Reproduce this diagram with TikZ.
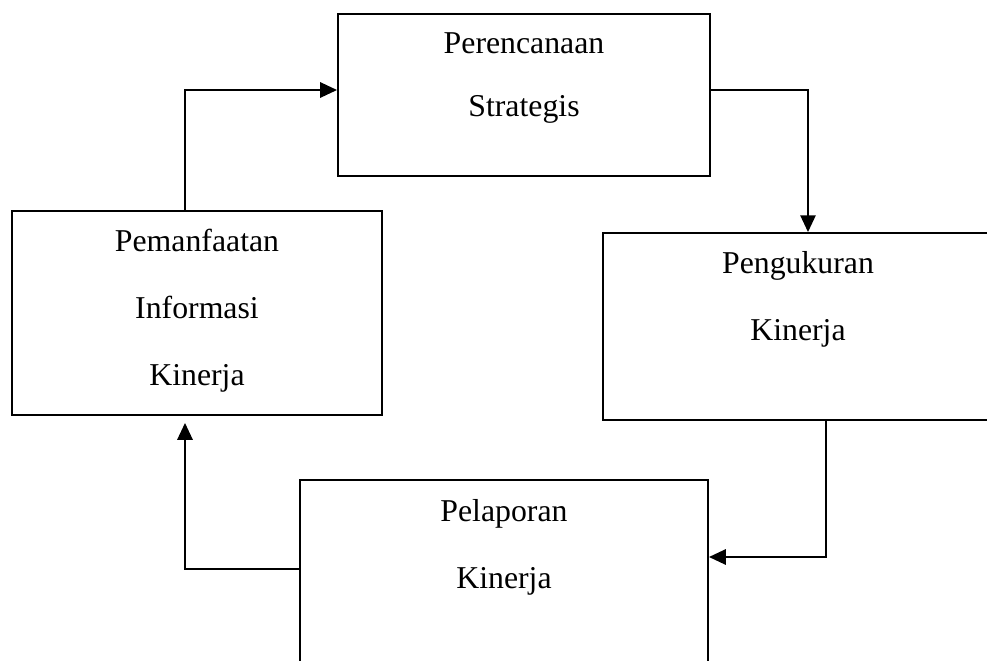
\documentclass[tikz,border=0pt]{standalone}
\usepackage{fontspec}
\setmainfont{Liberation Serif}
\usepackage{tikz}
\usetikzlibrary{arrows.meta, positioning}

\begin{document}
\begin{tikzpicture}[x=0.025cm, y=-0.025cm,
    box/.style = {shape=rectangle, draw, line width=1.3pt, inner sep=0pt},
    txt/.style = {align=center, inner sep=0pt, font=\fontsize{22.6}{47.7}\selectfont},
    flow/.style = {draw, line width=1.5pt, -{Triangle[length=0.42cm, width=0.38cm]}}]
    \useasboundingbox (0,0) rectangle (987,660);
    \clip (0,0) rectangle (987,660);
    % boxes
    \node[box, minimum width=9.3cm, minimum height=4.05cm] (plan) at (524,95) {};
    \node[box, minimum width=9.25cm, minimum height=5.1cm] (use) at (197,313) {};
    \node[box, minimum width=9.75cm, minimum height=4.675cm] (meas) at (798,326.5) {};
    \node[box, minimum width=10.2cm, minimum height=4.75cm] (report) at (504,575) {};
    % texts
    \node[txt, font=\fontsize{22.6}{44.8}\selectfont] (plantext) at (524,78.5) {Perencanaan\\Strategis};
    \node[txt] (usetext) at (197,311) {Pemanfaatan\\Informasi\\Kinerja};
    \node[txt] (meastext) at (798,299) {Pengukuran\\Kinerja};
    \node[txt] (reporttext) at (504,547) {Pelaporan\\Kinerja};
    % cycle
    \draw[flow] ([xshift=-0.3cm]use.north) |- ([yshift=0.125cm]plan.west);
    \draw[flow] ([yshift=0.125cm]plan.east) -| ([xshift=0.25cm]meas.north);
    \draw[flow] ([xshift=0.7cm]meas.south) |- ([yshift=0.45cm]report.east);
    \draw[flow] ([yshift=0.15cm]report.west) -| ([xshift=-0.3cm, yshift=-0.175cm]use.south);
\end{tikzpicture}
\end{document}
